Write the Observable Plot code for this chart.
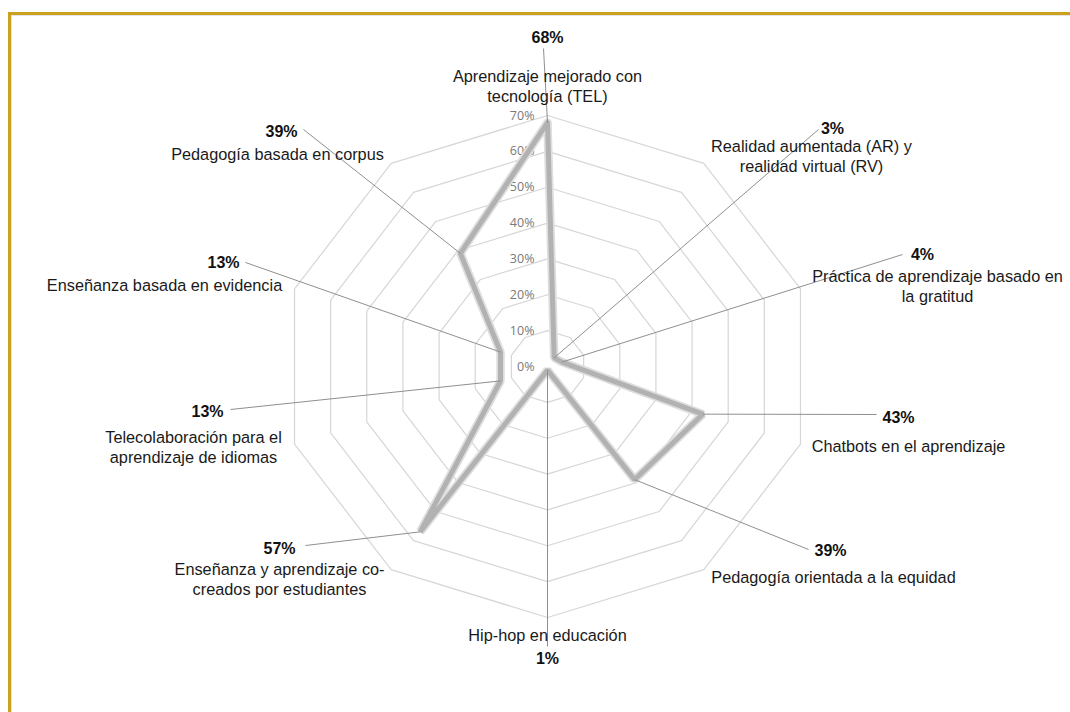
<!DOCTYPE html>
<html><head><meta charset="utf-8">
<script src="https://cdn.jsdelivr.net/npm/d3@7"></script>
<script src="https://cdn.jsdelivr.net/npm/@observablehq/plot@0.6"></script>
<style>
html,body{margin:0;padding:0;background:#fff;overflow:hidden}
#wrap{position:relative;width:1070px;height:712px;overflow:hidden;background:#fff}
#frame{position:absolute;left:8px;top:12px;width:1200px;height:800px;border-left:3px solid #c9a11c;border-top:3px solid #c9a11c;box-shadow:inset 1px 1px 0 #e4e4e4}
#chart{position:absolute;left:0;top:0}
#chart svg{background:transparent}
</style></head><body>
<div id="wrap"><div id="frame"></div><div id="chart"></div></div>
<script>
// ---- data ----
const categories = [
  "Aprendizaje mejorado con\ntecnología (TEL)",
  "Realidad aumentada (AR) y\nrealidad virtual (RV)",
  "Práctica de aprendizaje basado en\nla gratitud",
  "Chatbots en el aprendizaje",
  "Pedagogía orientada a la equidad",
  "Hip-hop en educación",
  "Enseñanza y aprendizaje co-\ncreados por estudiantes",
  "Telecolaboración para el\naprendizaje de idiomas",
  "Enseñanza basada en evidencia",
  "Pedagogía basada en corpus"
];
const values = [68, 3, 4, 43, 39, 1, 57, 13, 13, 39];
const valueLabels = ["68%", "3%", "4%", "43%", "39%", "1%", "57%", "13%", "13%", "39%"];
const ticks = [0, 10, 20, 30, 40, 50, 60, 70];
const tickLabels = ["0%", "10%", "20%", "30%", "40%", "50%", "60%", "70%"];

// ---- layout (pixel anchors of the callouts, not data) ----
const labelLayout = [
  {vx: 547, vy: 37,  tx: 547, ty: 85,  lx: 543, ly: 48},
  {vx: 832, vy: 128, tx: 811, ty: 155, lx: 818, ly: 129},
  {vx: 922, vy: 254, tx: 937, ty: 285, lx: 902, ly: 254},
  {vx: 898, vy: 417, tx: 908, ty: 445, lx: 876, ly: 414},
  {vx: 830, vy: 550, tx: 833, ty: 576, lx: 808, ly: 549},
  {vx: 547, vy: 658, tx: 547, ty: 634, lx: 547, ly: 646},
  {vx: 279, vy: 548, tx: 279, ty: 578, lx: 305, ly: 545},
  {vx: 207, vy: 411, tx: 193, ty: 446, lx: 230, ly: 409},
  {vx: 223, vy: 262, tx: 164, ty: 284, lx: 245, ly: 262},
  {vx: 281, vy: 131, tx: 277, ty: 153, lx: 303, ly: 129}
];

const CX = 547, CY = 366, RX = 266, RY = 251, VMAX = 70;
const ux = px => (px - CX) / RX * VMAX;
const uy = py => (CY - py) / RY * VMAX;
const n = categories.length;
const ang = i => i * 2 * Math.PI / n;
const px = (v, i) => v * Math.sin(ang(i));
const py = (v, i) => v * Math.cos(ang(i));

const rings = [];
ticks.filter(t => t > 0).forEach(t => {
  for (let i = 0; i <= n; i++) rings.push({t, x: px(t, i % n), y: py(t, i % n)});
});
const poly = d3.range(n + 1).map(i => ({x: px(values[i % n], i % n), y: py(values[i % n], i % n)}));
const pts = values.map((v, i) => ({
  x: px(v, i), y: py(v, i), cat: categories[i], lab: valueLabels[i],
  lx: ux(labelLayout[i].lx), ly: uy(labelLayout[i].ly),
  vx: ux(labelLayout[i].vx), vy: uy(labelLayout[i].vy),
  tx: ux(labelLayout[i].tx), ty: uy(labelLayout[i].ty)
}));
const tickData = ticks.map((t, i) => ({t, label: tickLabels[i]}));

const chart = Plot.plot({
  width: 1070, height: 712,
  marginTop: 0, marginRight: 0, marginBottom: 0, marginLeft: 0,
  style: {background: "transparent", fontFamily: "'Liberation Sans', Arial, sans-serif"},
  x: {domain: [-VMAX, VMAX], range: [CX - RX, CX + RX], axis: null},
  y: {domain: [-VMAX, VMAX], range: [CY + RY, CY - RY], axis: null},
  marks: [
    Plot.line(rings, {x: "x", y: "y", z: "t", stroke: "#d6d6d6", strokeWidth: 1.2, curve: "linear"}),
    Plot.text(tickData, {x: 0, y: "t", text: "label", dx: -13, textAnchor: "end", fill: "#7a7a7a", fontSize: 12.5, fontFamily: "'Open Sans', 'Liberation Sans', sans-serif"}),
    Plot.line(poly, {x: "x", y: "y", stroke: "#dedede", strokeWidth: 8.5, strokeLinejoin: "miter", curve: "linear"}),
    Plot.line(poly, {x: "x", y: "y", stroke: "#b2b2b2", strokeWidth: 5, strokeLinejoin: "miter", curve: "linear"}),
    Plot.link(pts, {x1: "x", y1: "y", x2: "lx", y2: "ly", stroke: "#8f8f8f", strokeWidth: 1}),
    Plot.text(pts, {x: "vx", y: "vy", text: "lab", fontWeight: "bold", fontSize: 16, fill: "#111"}),
    Plot.text(pts, {x: "tx", y: "ty", text: "cat", fontSize: 16.3, fill: "#1a1a1a", lineHeight: 1.2})
  ]
});
document.getElementById("chart").appendChild(chart);
</script>
</body></html>
